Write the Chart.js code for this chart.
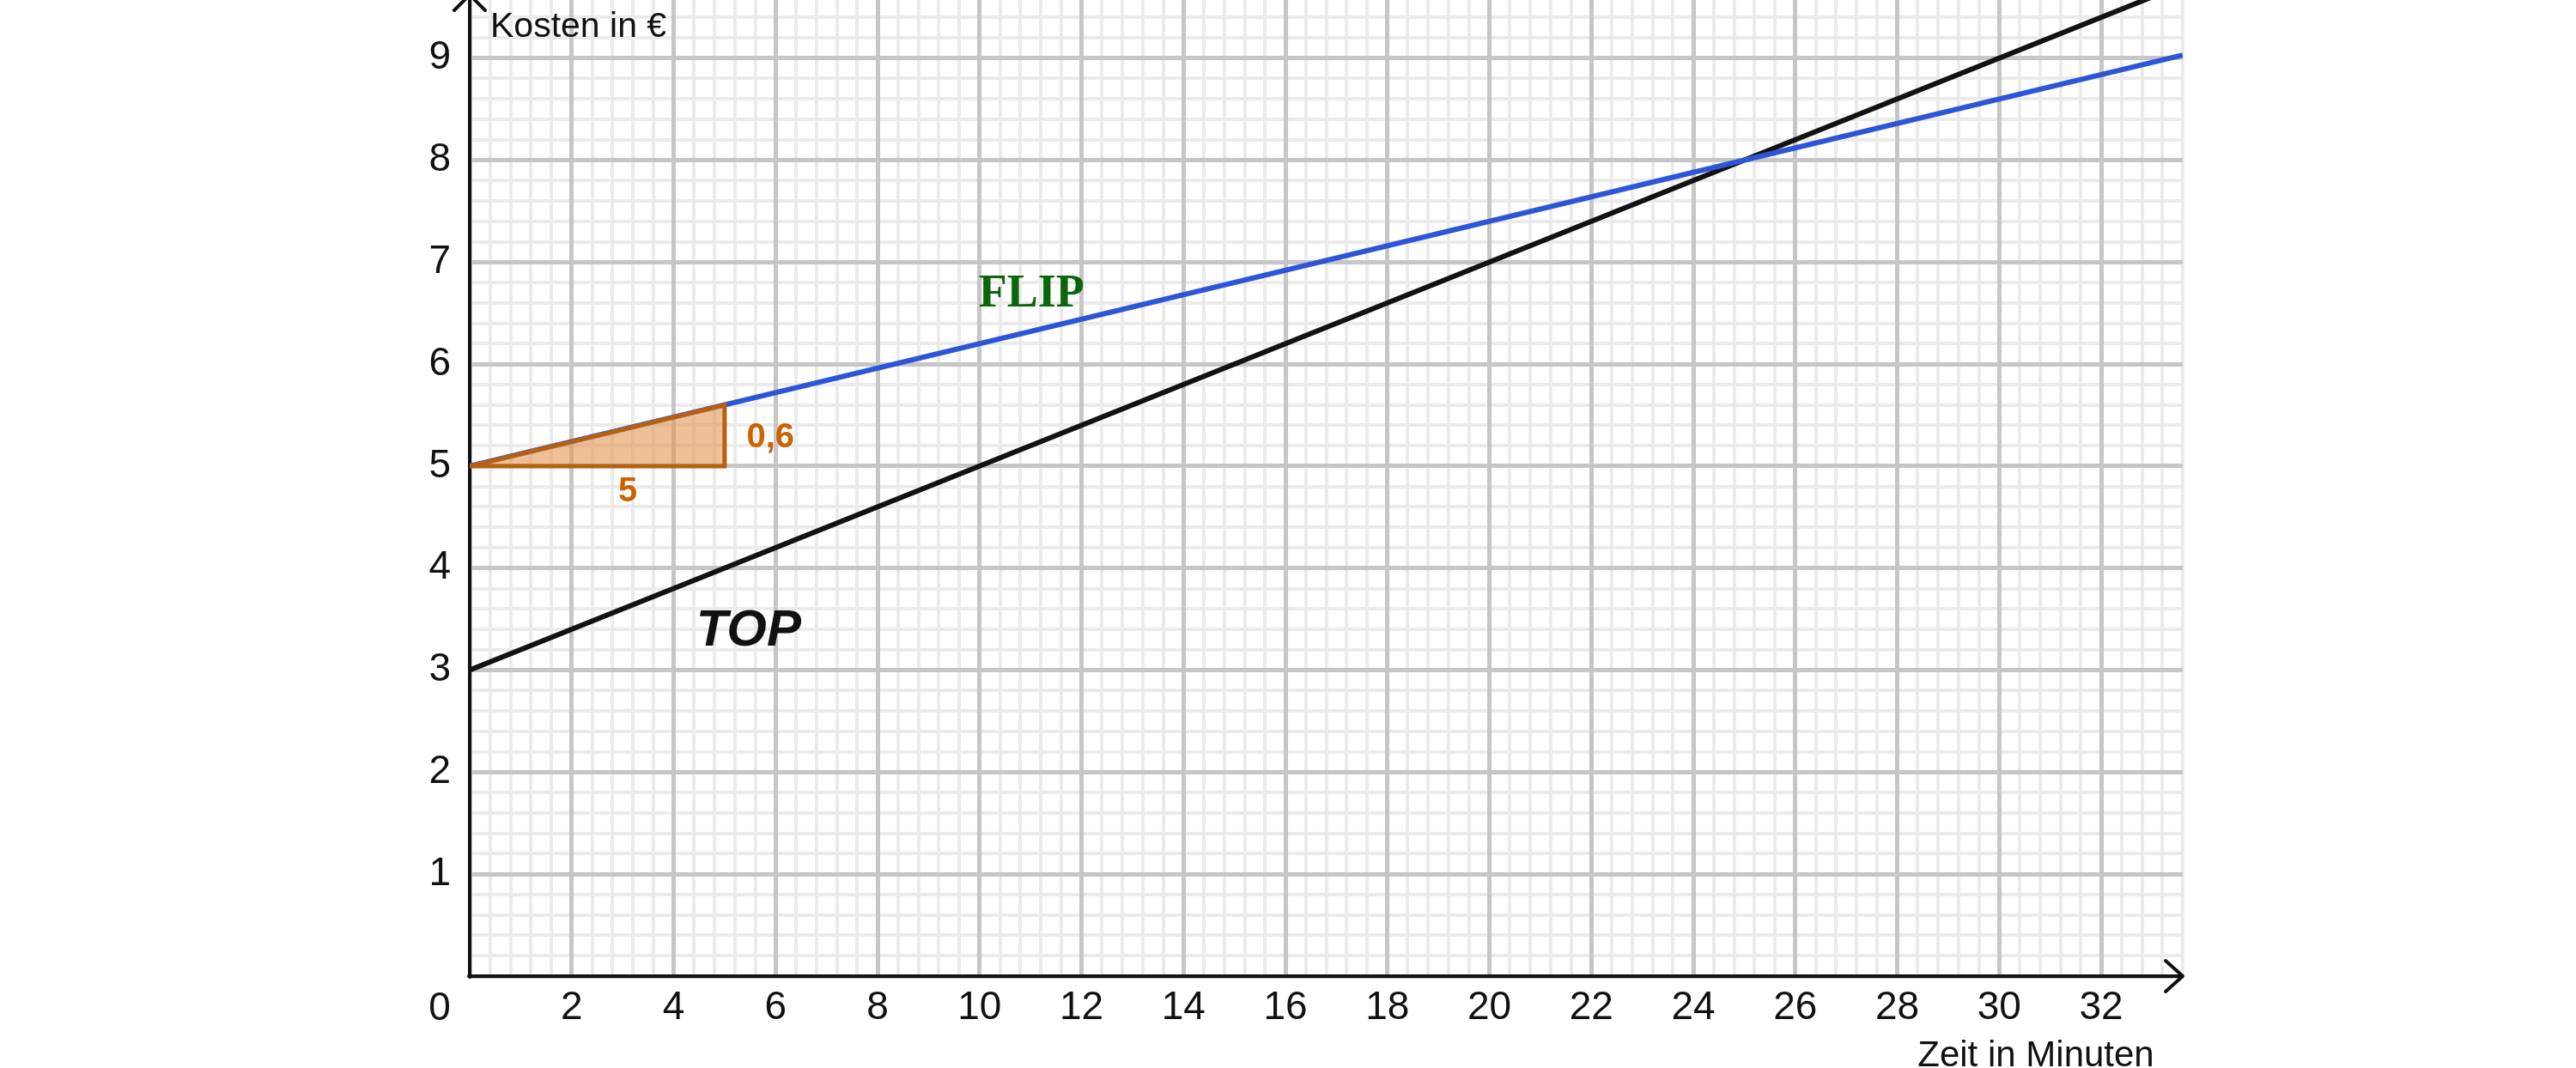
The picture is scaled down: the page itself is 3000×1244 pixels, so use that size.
<!DOCTYPE html>
<html>
<head>
<meta charset="utf-8">
<script src="https://cdn.jsdelivr.net/npm/chart.js@4/dist/chart.umd.min.js"></script>
<style>
  html, body { margin: 0; padding: 0; background: #fff; }
  #wrap { width: 3000px; height: 1244px; }
</style>
</head>
<body>
<div id="wrap"><canvas id="c" width="3000" height="1244"></canvas></div>
<script>
// Tarifvergleich FLIP / TOP - Kosten in Abhängigkeit der Zeit

// Werte
const flipX = [0, 25, 33.6];
const flipY = [5, 8, 9.03];
const topX = [0, 25, 33.6];
const topY = [3, 8, 9.72];

// Steigungsdreieck an FLIP
const triX = [0, 5, 5, 0];
const triY = [5, 5, 5.6, 5];

// Achsenbeschriftung
const xTicks = [0, 2, 4, 6, 8, 10, 12, 14, 16, 18, 20, 22, 24, 26, 28, 30, 32];
const yTicks = [0, 1, 2, 3, 4, 5, 6, 7, 8, 9];
const xRange = [0, 33.6];
const yRange = [0, 9.57];
const xMinorStep = 0.4;
const yMinorStep = 0.2;

const FONT = "'Liberation Sans', Arial, sans-serif";

function pts(xs, ys) {
    return xs.map((x, i) => ({ x: x, y: ys[i] }));
}

function minorTicks(min, max, step) {
    const out = [];
    for (let k = 0; k * step <= max + 1e-9; k++) {
        out.push({ value: +(min + k * step).toFixed(4) });
    }
    return out;
}

function noPad(scale) {
    scale.paddingTop = 0; scale.paddingBottom = 0;
    scale.paddingLeft = 0; scale.paddingRight = 0;
}

// Achsen mit Pfeilen + Texte
const deko = {
    id: "deko",
    beforeDatasetsDraw(chart) {
        const { ctx, chartArea: a } = chart;
        ctx.save();
        ctx.strokeStyle = "#111";
        ctx.lineWidth = 4;
        ctx.lineCap = "round";
        ctx.lineJoin = "round";
        ctx.beginPath();
        ctx.moveTo(a.left, a.bottom + 1);
        ctx.lineTo(a.left, a.top - 6);
        ctx.moveTo(a.left - 18, a.top + 12);
        ctx.lineTo(a.left, a.top - 6);
        ctx.lineTo(a.left + 18, a.top + 12);
        ctx.stroke();
        ctx.beginPath();
        ctx.moveTo(a.left - 1, a.bottom);
        ctx.lineTo(a.right, a.bottom);
        ctx.moveTo(a.right - 20, a.bottom - 18);
        ctx.lineTo(a.right, a.bottom);
        ctx.lineTo(a.right - 20, a.bottom + 18);
        ctx.stroke();
        ctx.restore();
    },
    afterDatasetsDraw(chart) {
        const { ctx, chartArea: a, scales } = chart;
        const x = scales.x, y = scales.y;
        ctx.save();
        ctx.fillStyle = "#111";
        ctx.textBaseline = "alphabetic";

        ctx.font = "41px " + FONT;
        ctx.textAlign = "left";
        ctx.fillText("Kosten in €", a.left + 24, 43);

        ctx.font = "42px " + FONT;
        ctx.textAlign = "center";
        ctx.fillText("Zeit in Minuten", 2371, 1242);

        ctx.font = "46px " + FONT;
        ctx.textBaseline = "middle";
        ctx.fillText("0", a.left - 35, a.bottom + 38);

        ctx.font = "bold italic 60px " + FONT;
        ctx.fillText("TOP", x.getPixelForValue(5.47), y.getPixelForValue(3.38));

        ctx.fillStyle = "#0b650b";
        ctx.font = "bold 54px 'Liberation Serif', 'DejaVu Serif', serif";
        ctx.fillText("FLIP", x.getPixelForValue(11.02), y.getPixelForValue(6.68));

        ctx.fillStyle = "#cc6200";
        ctx.font = "bold 40px " + FONT;
        ctx.fillText("0,6", x.getPixelForValue(5.9), y.getPixelForValue(5.28));
        ctx.fillText("5", x.getPixelForValue(3.1), y.getPixelForValue(4.75));
        ctx.restore();
    }
};

new Chart(document.getElementById("c"), {
    type: "line",
    data: {
        datasets: [
            {
                label: "Dreieck",
                data: pts(triX, triY),
                borderColor: "#b8600f",
                backgroundColor: "rgba(226,146,76,0.58)",
                borderWidth: 5,
                fill: "shape",
                pointRadius: 0,
                order: 0
            },
            {
                label: "FLIP",
                data: pts(flipX, flipY),
                borderColor: "#2c56d6",
                borderWidth: 6,
                pointRadius: 0,
                fill: false,
                order: 1
            },
            {
                label: "TOP",
                data: pts(topX, topY),
                borderColor: "#121212",
                borderWidth: 6,
                pointRadius: 0,
                fill: false,
                order: 2
            }
        ]
    },
    options: {
        responsive: false,
        devicePixelRatio: 1,
        animation: false,
        layout: { padding: { left: 0, right: 458, top: 0, bottom: 0 } },
        plugins: {
            legend: { display: false },
            tooltip: { enabled: false }
        },
        scales: {
            xMinor: {
                type: "linear", position: "bottom",
                min: xRange[0], max: xRange[1],
                afterBuildTicks: (s) => { s.ticks = minorTicks(xRange[0], xRange[1], xMinorStep); },
                afterFit: (s) => { s.height = 0; noPad(s); },
                ticks: { display: false },
                grid: { color: "#ebebeb", lineWidth: 4, drawTicks: false, z: -2 },
                border: { display: false }
            },
            yMinor: {
                type: "linear", position: "left",
                min: yRange[0], max: yRange[1],
                afterBuildTicks: (s) => { s.ticks = minorTicks(yRange[0], yRange[1], yMinorStep); },
                afterFit: (s) => { s.width = 0; noPad(s); },
                ticks: { display: false },
                grid: { color: "#ebebeb", lineWidth: 4, drawTicks: false, z: -2 },
                border: { display: false }
            },
            x: {
                type: "linear", position: "bottom",
                min: xRange[0], max: xRange[1],
                afterBuildTicks: (s) => { s.ticks = xTicks.map(v => ({ value: v })); },
                afterFit: (s) => { s.height = 107; noPad(s); },
                ticks: {
                    autoSkip: false, maxRotation: 0, padding: 10,
                    color: "#111", font: { family: FONT, size: 46 },
                    callback: (v) => v === 0 ? "" : String(v)
                },
                grid: { color: "#c6c6c6", lineWidth: 5, drawTicks: false, z: -1 },
                border: { display: false }
            },
            y: {
                type: "linear", position: "left",
                min: yRange[0], max: yRange[1],
                afterBuildTicks: (s) => { s.ticks = yTicks.map(v => ({ value: v })); },
                afterFit: (s) => { s.width = 547; noPad(s); },
                ticks: {
                    autoSkip: false, padding: 22,
                    color: "#111", font: { family: FONT, size: 46 },
                    callback: (v) => v === 0 ? "" : String(v)
                },
                grid: { color: "#c6c6c6", lineWidth: 5, drawTicks: false, z: -1 },
                border: { display: false }
            }
        }
    },
    plugins: [deko]
});
</script>
</body>
</html>
